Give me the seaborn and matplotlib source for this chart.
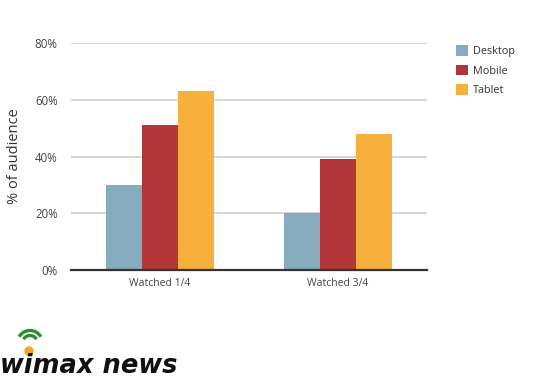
import matplotlib
matplotlib.use("Agg")
import matplotlib.pyplot as plt
from matplotlib.patches import Arc, Circle, Patch
import seaborn as sns
import pandas as pd

categories = ["Watched 1/4", "Watched 3/4"]
devices = ["Desktop", "Mobile", "Tablet"]
desktop = [30, 20]
mobile = [51, 39]
tablet = [63, 48]
colors = ["#86abbd", "#b23538", "#f8b03c"]

rows = []
for i, c in enumerate(categories):
    for d, vals in zip(devices, [desktop, mobile, tablet]):
        rows.append({"cat": c, "device": d, "value": vals[i]})
df = pd.DataFrame(rows)

sns.set_theme(style="white")
plt.rcParams["font.family"] = ["Open Sans", "DejaVu Sans"]

fig = plt.figure(figsize=(5.44, 3.84), dpi=100)
ax = fig.add_axes([71/544, 1-270/384, 356/544, 227/384])

sns.barplot(data=df, x="cat", y="value", hue="device", palette=colors,
            width=0.61, ax=ax, legend=False, saturation=1, linewidth=0, edgecolor="none")

ax.set_ylim(0, 80)
ax.set_xlim(-0.5, 1.5)
ax.set_yticks([0, 20, 40, 60, 80])
ax.set_yticklabels(["0%", "20%", "40%", "60%", "80%"])
ax.yaxis.grid(True, color="#d4d4d4", linewidth=1.3)
ax.set_axisbelow(True)
for s in ["top", "right", "left"]:
    ax.spines[s].set_visible(False)
ax.spines["bottom"].set_color("#333333")
ax.spines["bottom"].set_linewidth(1.6)
ax.tick_params(axis="y", length=0, pad=9.5, labelsize=8.3, labelcolor="#444444")
ax.tick_params(axis="x", length=0, pad=6, labelsize=7.5, labelcolor="#444444")
ax.set_xlabel("")
ax.set_ylabel("% of audience", fontsize=10.5, color="#333333", labelpad=9)

handles = [Patch(facecolor=c, edgecolor="none") for c in colors]
fig.legend(handles, devices, loc="upper left", bbox_to_anchor=(446/544, 1-35/384),
           frameon=False, fontsize=7.8, handlelength=1.15, handleheight=1.15,
           labelspacing=0.72, handletextpad=0.4, labelcolor="#333333")

# logo
fig.text(0/544, 1-373/384, "wimax news", fontsize=18.5, fontweight="heavy",
         fontstyle="italic", family=["DejaVu Sans"], color="#111111", va="baseline")
tr = fig.dpi_scale_trans
cx, cy = 0.30, (384-343)/100
fig.add_artist(Arc((cx, cy), 0.25, 0.25, theta1=30, theta2=150, color="#2e8b2e", lw=2.4, transform=tr))
fig.add_artist(Arc((cx, cy), 0.15, 0.15, theta1=30, theta2=150, color="#2e8b2e", lw=2.4, transform=tr))
fig.add_artist(Circle((0.29, (384-351)/100), 0.04, color="#f5a623", transform=tr))

fig.savefig("out.png", dpi=100)
